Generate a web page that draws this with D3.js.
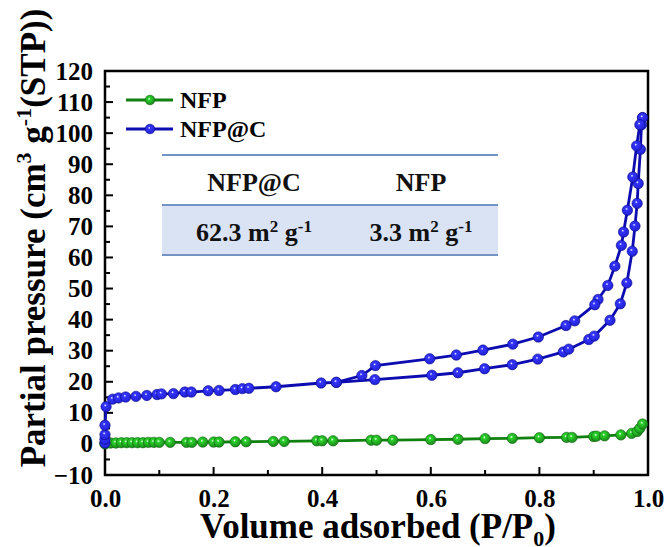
<!DOCTYPE html>
<html><head><meta charset="utf-8">
<script src="https://cdn.jsdelivr.net/npm/d3@7"></script>
<style>body{margin:0;background:#fff}svg{display:block}text{font-family:"Liberation Serif","Times New Roman",serif;font-weight:bold}</style>
</head><body><div id="chart"></div>
<script>
const xTicks = [0.0, 0.2, 0.4, 0.6, 0.8, 1.0];
const yTicks = [-10, 0, 10, 20, 30, 40, 50, 60, 70, 80, 90, 100, 110, 120];
const seriesNames = ["NFP", "NFP@C"];
const seriesColors = ["#138a13", "#1414c8"];

// NFP@C adsorption branch
const nfpcAdsX = [0.0,0.0,0.0,0.0,0.002,0.014,0.025,0.038,0.057,0.077,0.096,0.104,0.126,0.147,0.159,0.19,0.21,0.24,0.253,0.265,0.315,0.398,0.426,0.497,0.602,0.65,0.699,0.75,0.797,0.844,0.854,0.891,0.901,0.93,0.949,0.961,0.971,0.976,0.98,0.982,0.986,0.988,0.99];
const nfpcAdsY = [0.3,1.5,3.0,6.0,12.0,14.4,14.8,15.1,15.3,15.6,15.9,16.1,16.2,16.7,16.7,17.1,17.2,17.5,17.8,17.9,18.4,19.6,19.8,20.7,22.1,22.9,24.2,25.5,27.3,29.6,30.5,33.6,34.7,39.8,45.1,51.8,62.0,70.1,77.4,83.8,94.8,102.7,105.0];
// NFP@C desorption branch
const nfpcDesX = [0.99,0.985,0.979,0.972,0.962,0.955,0.951,0.939,0.926,0.908,0.902,0.865,0.849,0.798,0.751,0.696,0.647,0.598,0.498,0.473,0.426];
const nfpcDesY = [105.0,102.7,95.9,85.9,75.2,68.2,63.9,57.2,51.0,46.5,44.8,39.6,38.1,34.4,32.1,30.2,28.6,27.4,25.2,22.0,19.8];
// NFP
const nfpX = [0.0,0.0,0.002,0.01,0.02,0.03,0.04,0.05,0.06,0.07,0.08,0.09,0.1,0.12,0.15,0.16,0.18,0.2,0.21,0.24,0.26,0.31,0.33,0.39,0.4,0.42,0.49,0.5,0.53,0.6,0.65,0.7,0.75,0.8,0.85,0.86,0.9,0.905,0.92,0.95,0.97,0.98,0.985,0.99];
const nfpY = [0.0,0.2,0.3,0.3,0.3,0.4,0.4,0.4,0.4,0.4,0.5,0.5,0.5,0.5,0.5,0.5,0.6,0.6,0.6,0.7,0.7,0.8,0.8,1.0,1.0,1.0,1.2,1.2,1.2,1.4,1.5,1.7,1.8,2.0,2.1,2.1,2.4,2.5,2.6,2.9,3.4,4.0,5.0,6.4];

const tableHeaders = ["NFP@C", "NFP"];
const tableValues = ["62.3", "3.3"];

const W = 668, H = 547;
const svg = d3.select("#chart").append("svg").attr("width", W).attr("height", H);
const defs = svg.append("defs");
const ballFill = ["#1f9a1f", "#2626f0"];
seriesColors.forEach((c, i) => {
  const g = defs.append("radialGradient").attr("id", "ball" + i).attr("cx", "42%").attr("cy", "38%").attr("r", "62%");
  g.append("stop").attr("offset", "0%").attr("stop-color", "#ffffff");
  g.append("stop").attr("offset", "22%").attr("stop-color", d3.color(ballFill[i]).brighter(0.9));
  g.append("stop").attr("offset", "100%").attr("stop-color", d3.color(ballFill[i]).darker(0.4));
});

const x = d3.scaleLinear().domain([0, 1]).range([105, 648]);
const y = d3.scaleLinear().domain([-10, 120]).range([475, 71]);

// frame
svg.append("rect").attr("x", x(0)).attr("y", y(120)).attr("width", x(1) - x(0)).attr("height", y(-10) - y(120))
  .attr("fill", "none").attr("stroke", "#000").attr("stroke-width", 2.5);

// x axis
const xAxis = d3.axisBottom(x).tickValues(xTicks).tickFormat(d3.format(".1f")).tickSize(0).tickPadding(14);
const gx = svg.append("g").attr("transform", `translate(0,${y(-10)})`).call(xAxis);
gx.select(".domain").remove();
gx.selectAll("text").attr("font-size", 25).attr("fill", "#000").attr("font-family", "Liberation Serif").attr("font-weight", "bold");
const xMinor = d3.range(0, 1.0001, 0.1);
svg.append("g").selectAll("line").data(xMinor).join("line")
  .attr("x1", d => x(d)).attr("x2", d => x(d))
  .attr("y1", y(-10)).attr("y2", (d, i) => y(-10) - (i % 2 === 0 ? 8 : 5))
  .attr("stroke", "#000").attr("stroke-width", 2);

// y axis
const yAxis = d3.axisLeft(y).tickValues(yTicks).tickSize(0).tickPadding(12);
const gy = svg.append("g").attr("transform", `translate(${x(0)},0)`).call(yAxis);
gy.select(".domain").remove();
gy.selectAll("text").attr("font-size", 25).attr("fill", "#000").attr("font-family", "Liberation Serif").attr("font-weight", "bold");
const yMinor = d3.range(-10, 120.001, 5);
svg.append("g").selectAll("line").data(yMinor).join("line")
  .attr("y1", d => y(d)).attr("y2", d => y(d))
  .attr("x1", x(0)).attr("x2", (d, i) => x(0) + (i % 2 === 0 ? 8 : 5))
  .attr("stroke", "#000").attr("stroke-width", 2);

// axis titles
const xt = svg.append("text").attr("x", 378).attr("y", 538).attr("text-anchor", "middle").attr("font-size", 35).attr("fill", "#000");
xt.append("tspan").text("Volume adsorbed (P/P");
xt.append("tspan").attr("font-size", 22).attr("dy", 8).text("0");
xt.append("tspan").attr("dy", -8).text(")");

const yt = svg.append("text").attr("transform", `translate(45,${238}) rotate(-90)`).attr("text-anchor", "middle").attr("font-size", 35).attr("fill", "#000");
yt.append("tspan").text("Partial pressure (cm");
yt.append("tspan").attr("font-size", 22).attr("dy", -14).text("3");
yt.append("tspan").attr("dy", 14).text(" g");
yt.append("tspan").attr("font-size", 22).attr("dy", -14).text("-1");
yt.append("tspan").attr("dy", 14).text("(STP))");

// table
const tx0 = 162, tx1 = 498;
svg.append("rect").attr("x", tx0).attr("y", 205).attr("width", tx1 - tx0).attr("height", 50).attr("fill", "#dae3f3");
[155, 205, 255].forEach(v => svg.append("line").attr("x1", tx0).attr("x2", tx1).attr("y1", v).attr("y2", v)
  .attr("stroke", "#7393c4").attr("stroke-width", 2));
const colX = [254, 421];
tableHeaders.forEach((h, i) => svg.append("text").attr("x", colX[i]).attr("y", 191).attr("text-anchor", "middle")
  .attr("font-size", 26).attr("fill", "#111").text(h));
tableValues.forEach((v, i) => {
  const t = svg.append("text").attr("x", colX[i]).attr("y", 241).attr("text-anchor", "middle").attr("font-size", 26).attr("fill", "#111");
  t.append("tspan").text(v + " m");
  t.append("tspan").attr("font-size", 17).attr("dy", -9).text("2");
  t.append("tspan").attr("dy", 9).text(" g");
  t.append("tspan").attr("font-size", 17).attr("dy", -9).text("-1");
});

// series
const line = d3.line().x(d => x(d[0])).y(d => y(d[1]));
const lineColors = ["#108010", "#0c0cb0"];
function drawSeries(xs, ys, i) {
  const pts = xs.map((v, k) => [v, ys[k]]);
  svg.append("path").datum(pts).attr("d", line).attr("fill", "none").attr("stroke", lineColors[i]).attr("stroke-width", 2.8);
  svg.append("g").selectAll("circle").data(pts).join("circle")
    .attr("cx", d => x(d[0])).attr("cy", d => y(d[1])).attr("r", 5.2)
    .attr("fill", `url(#ball${i})`).attr("stroke", d3.color(lineColors[i]).darker(0.6)).attr("stroke-width", 0.6);
}
drawSeries(nfpX, nfpY, 0);
drawSeries(nfpcAdsX, nfpcAdsY, 1);
drawSeries(nfpcDesX, nfpcDesY, 1);

// legend
seriesNames.forEach((n, i) => {
  const ly = 100 + i * 29;
  svg.append("line").attr("x1", 126).attr("x2", 173).attr("y1", ly).attr("y2", ly).attr("stroke", lineColors[i]).attr("stroke-width", 2.8);
  svg.append("circle").attr("cx", 150).attr("cy", ly).attr("r", 4.8).attr("fill", `url(#ball${i})`)
    .attr("stroke", d3.color(lineColors[i]).darker(0.6)).attr("stroke-width", 0.6);
  svg.append("text").attr("x", 180).attr("y", ly + 8).attr("font-size", 24).attr("fill", "#000").text(n);
});
</script></body></html>
